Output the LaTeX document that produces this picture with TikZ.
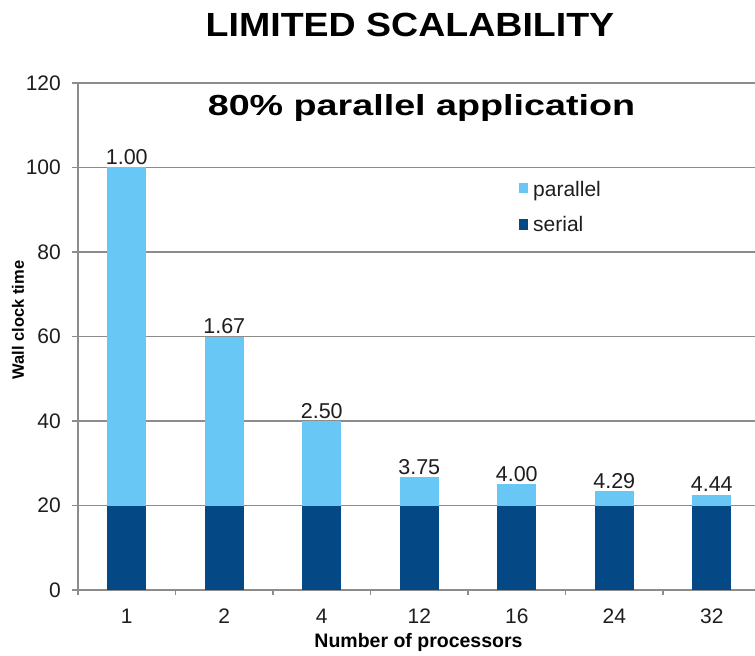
\documentclass[tikz,border=0pt]{standalone}
\usepackage{fontspec}
\setmainfont{Liberation Sans}
\definecolor{parcol}{RGB}{104,199,245}
\definecolor{sercol}{RGB}{4,73,134}
\definecolor{gridcol}{RGB}{140,140,140}
\definecolor{txtcol}{RGB}{30,30,30}
\begin{document}
\begin{tikzpicture}[x=1bp,y=-1bp,
  gridline/.style={draw=gridcol,line width=1.3bp},
  ticklab/.style={inner sep=0,text=txtcol,font=\fontsize{21bp}{24bp}\selectfont},
  vallab/.style={inner sep=0,anchor=base,text=txtcol,font=\fontsize{21.5bp}{24bp}\selectfont},
  legtext/.style={inner sep=0,anchor=base west,text=txtcol,font=\fontsize{21bp}{24bp}\selectfont},
  axtitle/.style={inner sep=0,text=black,font=\bfseries\fontsize{19.5bp}{22bp}\selectfont}]
\useasboundingbox (0,0) rectangle (755,656);
\fill[white] (0,0) rectangle (755,656);

% horizontal grid lines, 20 units = 84.5bp
\foreach \v in {20,40,...,120}
  \draw[gridline] (72,{590-4.225*\v}) -- (755,{590-4.225*\v});
% axes and ticks
\draw[gridline] (72,590) -- (755,590);
\draw[gridline] (78,{590-4.225*120}) -- (78,590);
\foreach \k in {0,...,7}
  \draw[gridline] ({78+97.5*\k},590) -- ++(0,5);

% stacked bars: serial part fixed at 20, parallel part on top
\foreach \k/\lab/\tot/\sp in {0/1/100/1.00, 1/2/60/1.67, 2/4/40/2.50,
    3/12/26.667/3.75, 4/16/25/4.00, 5/24/23.333/4.29, 6/32/22.5/4.44}
{
  \pgfmathsetmacro\cx{126.75+97.5*\k}
  \fill[sercol] ({\cx-19.5},590) rectangle ({\cx+19.5},{590-4.225*20});
  \fill[parcol] ({\cx-19.5},{590-4.225*20}) rectangle ({\cx+19.5},{590-4.225*\tot});
  \node[vallab] (val\k) at (\cx,{590-4.225*\tot-3}) {\sp};
  \node[ticklab,anchor=base] (xl\k) at (\cx,623) {\lab};
}

% y tick labels
\foreach \v in {0,20,...,120}
  \node[ticklab,anchor=east] (yl\v) at (61,{590-4.225*\v}) {\v};

% titles
\node[inner sep=0,anchor=base,font=\bfseries\fontsize{33.5bp}{36bp}\selectfont] (title)
  at (410,37) {\scalebox{1.12}[1]{LIMITED SCALABILITY}};
\node[inner sep=0,anchor=base,font=\bfseries\fontsize{29bp}{32bp}\selectfont] (subtitle)
  at (421.5,116) {\scalebox{1.3}[1]{80\% parallel application}};
\node[axtitle,anchor=base] (xtitle) at (418.5,647) {Number of processors};
\node[axtitle,font=\bfseries\fontsize{16.5bp}{19bp}\selectfont,rotate=90] (ytitle)
  at (18,320) {Wall clock time};

% legend
\fill[parcol] (519,183) rectangle (528,193);
\node[legtext] (legpar) at (533,196) {parallel};
\fill[sercol] (519,219) rectangle (528,230);
\node[legtext] (legser) at (533,231.5) {serial};
\end{tikzpicture}
\end{document}
